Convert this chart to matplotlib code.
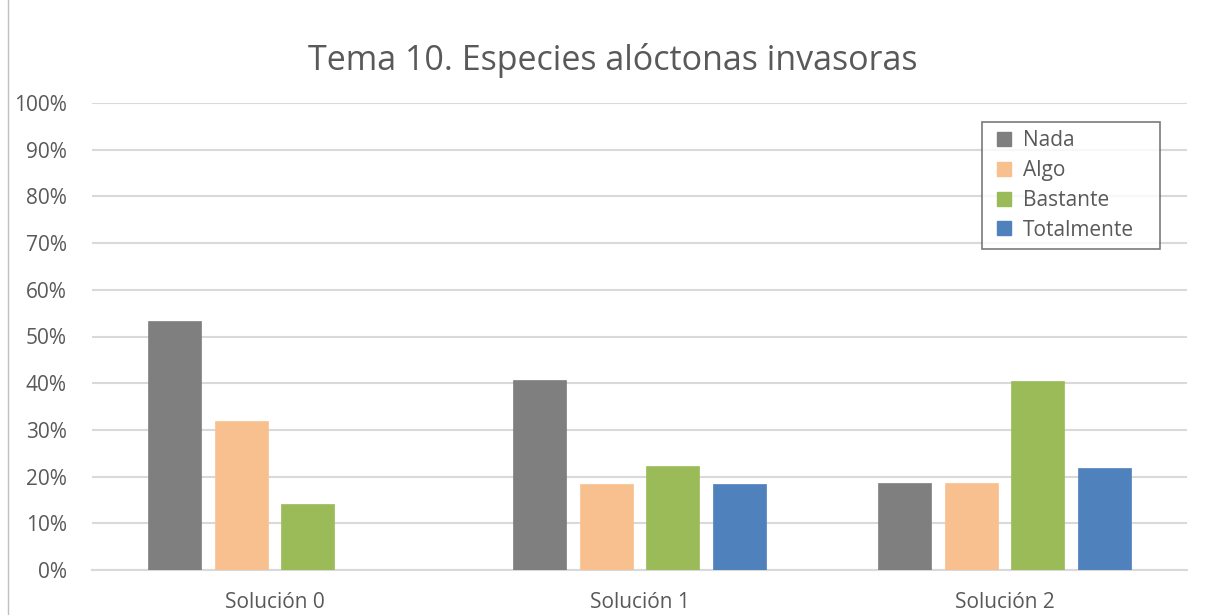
import numpy as np
import matplotlib
matplotlib.use("Agg")
import matplotlib.pyplot as plt
from matplotlib.lines import Line2D

categories = ["Solución 0", "Solución 1", "Solución 2"]
series = ["Nada", "Algo", "Bastante", "Totalmente"]
nada = [53.3, 40.7, 18.6]
algo = [31.9, 18.4, 18.6]
bastante = [14.1, 22.3, 40.5]
totalmente = [0.0, 18.4, 21.8]
colors = ["#7F7F7F", "#F9C08F", "#9BBB59", "#4F81BD"]

plt.rcParams['font.family'] = ['Open Sans', 'DejaVu Sans']
text_color = "#595959"

fig = plt.figure(figsize=(12.06, 6.15), dpi=100)
ax = fig.add_axes([92 / 1206, 1 - 570 / 615, 1095 / 1206, 467 / 615])

x = np.arange(len(categories))
step = 0.182
width = 0.145
for i, (name, vals) in enumerate(zip(series, [nada, algo, bastante, totalmente])):
    ax.bar(x + (i - 1.5) * step, vals, width, color=colors[i], label=name,
           edgecolor=colors[i], linewidth=0.5, zorder=3)

ax.set_xlim(-0.5, 2.5)
ax.set_ylim(0, 100)
ax.set_yticks(np.arange(0, 101, 10))
ax.set_yticklabels([f"{v}%" for v in range(0, 101, 10)])
ax.set_xticks(x)
ax.set_xticklabels(categories)
ax.grid(axis="y", color="#D9D9D9", linewidth=1.5, zorder=0)
for s in ["top", "right", "left"]:
    ax.spines[s].set_visible(False)
ax.spines["bottom"].set_color("#D9D9D9")
ax.spines["bottom"].set_linewidth(1.5)
ax.tick_params(axis="both", length=0, labelsize=15, labelcolor=text_color)
ax.tick_params(axis="y", pad=18)
ax.tick_params(axis="x", pad=16)

fig.text(613 / 1206, 1 - 61 / 615, "Tema 10. Especies alóctonas invasoras",
         ha="center", va="center", fontsize=24.5, color=text_color)

# square markers as legend handles, box stretched to the reference width
handles = [Line2D([], [], linestyle="none", marker="s", markersize=10.5,
                  markerfacecolor=c, markeredgecolor=c) for c in colors]
x0 = (982 - 92) / 1095
y1 = (570 - 122) / 467
leg = ax.legend(handles, series, loc="upper left",
                bbox_to_anchor=(x0, y1 - 0.3, 178 / 1095, 0.3), mode="expand",
                frameon=True, fancybox=False, fontsize=15, handlelength=1.3,
                handletextpad=0.25, labelspacing=0.42,
                borderpad=0.4, borderaxespad=0)
leg.get_frame().set_edgecolor("#595959")
leg.get_frame().set_linewidth(1.2)
for t in leg.get_texts():
    t.set_color(text_color)

fig.add_artist(Line2D([8 / 1206, 8 / 1206], [0, 1], color="#BFBFBF", linewidth=1))

fig.savefig("out.png", dpi=100)
